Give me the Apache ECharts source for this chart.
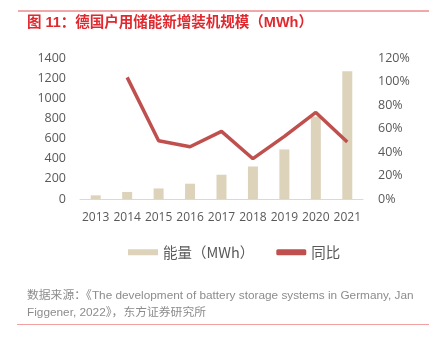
<!DOCTYPE html>
<html><head><meta charset="utf-8">
<script src="https://cdn.jsdelivr.net/npm/echarts@6/dist/echarts.min.js"></script>
<style>html,body{margin:0;padding:0;background:#fff}#c{width:432px;height:341px}</style>
</head><body><div id="c"></div>
<script>
const categories = ['2013','2014','2015','2016','2017','2018','2019','2020','2021'];
const energy = [36, 70, 105, 152, 241, 323, 492, 818, 1269];
const yoy = [null, 103.5, 49.6, 44.5, 57.5, 34.3, 53.3, 73.7, 48.5];
const leftTicks = [0, 200, 1400];
const rightTicks = [0, 20, 120];

const chart = echarts.init(document.getElementById('c'), null, {renderer: 'canvas'});
const font = '"Open Sans", "Noto Sans CJK SC", sans-serif';
const cjk = '"Noto Sans CJK SC", sans-serif';
chart.setOption({
  animation: false,
  textStyle: {fontFamily: font},
  grid: {left: 80, right: 69, top: 58, bottom: 142},
  legend: {
    top: 240, left: 123, itemGap: 22, itemWidth: 30, itemHeight: 6,
    textStyle: {fontFamily: cjk, fontSize: 14.5, color: '#595959'},
    data: [
      {name: '能量（MWh）', icon: 'rect'},
      {name: '同比', icon: 'roundRect', itemStyle: {color: '#c0504d'}}
    ]
  },
  xAxis: {
    type: 'category', data: categories,
    axisLine: {lineStyle: {color: '#d9d9d9', width: 1}},
    axisTick: {show: false},
    axisLabel: {color: '#595959', fontSize: 12, margin: 13, interval: 0, fontFamily: '"Open Sans", sans-serif'}
  },
  yAxis: [
    {type: 'value', min: leftTicks[0], max: leftTicks[2], interval: leftTicks[1],
     splitLine: {show: false}, axisLine: {show: false}, axisTick: {show: false},
     axisLabel: {color: '#595959', fontSize: 12.5, margin: 14, formatter: v => String(v), fontFamily: '"Open Sans", sans-serif'}},
    {type: 'value', min: rightTicks[0], max: rightTicks[2], interval: rightTicks[1],
     splitLine: {show: false}, axisLine: {show: false}, axisTick: {show: false},
     axisLabel: {color: '#595959', fontSize: 12.5, margin: 15, formatter: v => v + '%', fontFamily: '"Open Sans", sans-serif'}}
  ],
  series: [
    {name: '能量（MWh）', type: 'bar', data: energy, barWidth: 10,
     itemStyle: {color: '#ddd3bb'}, yAxisIndex: 0},
    {name: '同比', type: 'line', data: yoy, yAxisIndex: 1, showSymbol: false, symbol: 'none',
     lineStyle: {color: '#c0504d', width: 3.5}, itemStyle: {color: '#c0504d'}}
  ],
  graphic: [
    {type: 'line', shape: {x1: 18, y1: 11, x2: 429, y2: 11}, style: {stroke: '#e05050', lineWidth: 1}},
    {type: 'text', left: 27, top: 16, style: {text: '图 11：德国户用储能新增装机规模（MWh）', fill: '#e0282e', font: 'bold 14.5px "Liberation Sans", "Noto Sans CJK SC", sans-serif'}},
    {type: 'text', left: 27, top: 290, style: {text: '数据来源：《The development of battery storage systems in Germany, Jan', fill: '#8c8c8c', font: '11.8px "Liberation Sans", "Noto Sans CJK SC", sans-serif'}},
    {type: 'text', left: 27, top: 307, style: {text: 'Figgener, 2022》，东方证券研究所', fill: '#8c8c8c', font: '11.8px "Liberation Sans", "Noto Sans CJK SC", sans-serif'}},
    {type: 'line', shape: {x1: 17, y1: 324.5, x2: 429, y2: 324.5}, style: {stroke: '#f2a0a0', lineWidth: 1.2}}
  ]
});
</script></body></html>
